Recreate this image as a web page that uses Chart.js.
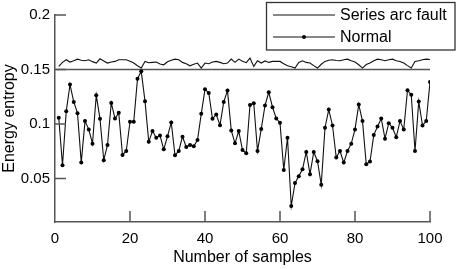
<!DOCTYPE html>
<html>
<head>
<meta charset="utf-8">
<script src="https://cdn.jsdelivr.net/npm/chart.js@4/dist/chart.umd.min.js"></script>
<style>
  html, body { margin: 0; padding: 0; background: #fff; }
</style>
</head>
<body>
<canvas id="chart" width="457" height="269"></canvas>
<script>
// sample numbers 1..100
const samples = Array.from({ length: 100 }, (_, i) => i + 1);

const faultEntropy = [
  0.1528, 0.1565, 0.1589, 0.1568, 0.1580, 0.1595, 0.1585, 0.1580, 0.1589, 0.1572,
  0.1559, 0.1598, 0.1578, 0.1559, 0.1568, 0.1574, 0.1589, 0.1589, 0.1589, 0.1575,
  0.1559, 0.1534, 0.1513, 0.1574, 0.1562, 0.1565, 0.1568, 0.1550, 0.1543, 0.1570,
  0.1585, 0.1595, 0.1589, 0.1565, 0.1553, 0.1534, 0.1548, 0.1559, 0.1513, 0.1559,
  0.1553, 0.1568, 0.1574, 0.1565, 0.1553, 0.1559, 0.1595, 0.1565, 0.1595, 0.1575,
  0.1562, 0.1604, 0.1528, 0.1580, 0.1559, 0.1578, 0.1565, 0.1574, 0.1574, 0.1574,
  0.1553, 0.1534, 0.1525, 0.1513, 0.1565, 0.1580, 0.1565, 0.1559, 0.1535, 0.1513,
  0.1548, 0.1574, 0.1585, 0.1589, 0.1583, 0.1580, 0.1589, 0.1595, 0.1580, 0.1568,
  0.1543, 0.1513, 0.1545, 0.1559, 0.1580, 0.1595, 0.1589, 0.1580, 0.1589, 0.1595,
  0.1580, 0.1574, 0.1559, 0.1535, 0.1513, 0.1574, 0.1580, 0.1589, 0.1595, 0.1592
];

const normalEntropy = [
  0.1057, 0.0621, 0.1117, 0.1361, 0.1202, 0.1099, 0.0645, 0.1026, 0.0950, 0.0819,
  0.1263, 0.1047, 0.0667, 0.0807, 0.1193, 0.1050, 0.1102, 0.0715, 0.0752, 0.1020,
  0.1020, 0.1416, 0.1483, 0.1209, 0.0837, 0.0935, 0.0874, 0.0895, 0.0767, 0.0886,
  0.1014, 0.0712, 0.0752, 0.0883, 0.0788, 0.0807, 0.0795, 0.0852, 0.1093, 0.1318,
  0.1285, 0.1047, 0.1087, 0.0989, 0.1202, 0.1306, 0.0941, 0.0822, 0.0935, 0.0761,
  0.0731, 0.1175, 0.1190, 0.0752, 0.0953, 0.1169, 0.1291, 0.1154, 0.1050, 0.1011,
  0.0578, 0.0874, 0.0247, 0.0457, 0.0521, 0.0584, 0.0743, 0.0539, 0.0743, 0.0658,
  0.0441, 0.0965, 0.1132, 0.0986, 0.0691, 0.0752, 0.0645, 0.0752, 0.0819, 0.0950,
  0.1178, 0.1026, 0.0630, 0.0655, 0.0898, 0.0977, 0.1050, 0.0865, 0.1007, 0.0965,
  0.0879, 0.1026, 0.0950, 0.1309, 0.1269, 0.0752, 0.1205, 0.0986, 0.1026, 0.1385
];

const xTicks = [0, 20, 40, 60, 80, 100];
const yTicks = [0.05, 0.1, 0.15, 0.2];
const threshold = 0.15;

const FONT = "'Liberation Sans', Arial, sans-serif";
const AXIS = "#555";

// threshold line, inward tick marks and the boxed legend
const extras = {
  id: "extras",
  beforeDatasetsDraw(chart) {
    const { ctx, chartArea, scales } = chart;
    const y = scales.y.getPixelForValue(threshold);
    ctx.save();
    ctx.strokeStyle = AXIS;
    ctx.lineWidth = 1.5;
    ctx.beginPath();
    ctx.moveTo(chartArea.left, y);
    ctx.lineTo(chartArea.right, y);
    ctx.stroke();
    ctx.restore();
  },
  afterDraw(chart) {
    const { ctx, chartArea, scales } = chart;
    ctx.save();
    ctx.strokeStyle = AXIS;
    ctx.lineWidth = 1.5;
    ctx.beginPath();
    yTicks.forEach(v => {
      const py = scales.y.getPixelForValue(v);
      ctx.moveTo(chartArea.left, py);
      ctx.lineTo(chartArea.left + 11, py);
    });
    xTicks.slice(1).forEach(v => {
      const px = scales.x.getPixelForValue(v);
      ctx.moveTo(px, chartArea.bottom);
      ctx.lineTo(px, chartArea.bottom - 11);
    });
    ctx.stroke();

    // legend
    ctx.strokeStyle = "#333";
    ctx.lineWidth = 1.3;
    ctx.strokeRect(266.5, 2.5, 188.5, 47.5);
    ctx.font = "16px " + FONT;
    ctx.fillStyle = "#000";
    ctx.textBaseline = "middle";
    const rows = [15, 37];
    chart.data.datasets.forEach((ds, i) => {
      const ry = rows[i];
      ctx.strokeStyle = "#111";
      ctx.lineWidth = 1.2;
      ctx.beginPath();
      ctx.moveTo(273, ry);
      ctx.lineTo(335, ry);
      ctx.stroke();
      if (ds.pointRadius > 0) {
        ctx.beginPath();
        ctx.arc(304, ry, 2, 0, Math.PI * 2);
        ctx.fill();
      }
      ctx.fillText(ds.label, 340, ry + 1);
    });
    ctx.restore();
  }
};

new Chart(document.getElementById("chart"), {
  type: "line",
  data: {
    datasets: [
      {
        label: "Series arc fault",
        data: samples.map((s, i) => ({ x: s, y: faultEntropy[i] })),
        borderColor: "#111",
        borderWidth: 1.1,
        pointRadius: 0,
        tension: 0
      },
      {
        label: "Normal",
        data: samples.map((s, i) => ({ x: s, y: normalEntropy[i] })),
        borderColor: "#111",
        borderWidth: 1.1,
        pointRadius: 2,
        pointBackgroundColor: "#000",
        pointBorderWidth: 0,
        tension: 0
      }
    ]
  },
  options: {
    responsive: false,
    animation: false,
    layout: { padding: { left: 0, right: 27, top: 15, bottom: 0 } },
    plugins: { legend: { display: false }, tooltip: { enabled: false } },
    scales: {
      x: {
        type: "linear",
        min: 0,
        max: 100,
        afterBuildTicks: scale => { scale.ticks = xTicks.map(v => ({ value: v })); },
        afterFit: scale => { scale.height = 47; },
        grid: { display: false, drawTicks: false },
        border: { display: true, color: AXIS, width: 1.5 },
        ticks: { color: "#000", font: { family: FONT, size: 15 }, padding: 8, maxRotation: 0 },
        title: {
          display: true,
          text: "Number of samples",
          color: "#000",
          font: { family: FONT, size: 16 },
          padding: { top: 0, bottom: 2 }
        }
      },
      y: {
        min: 0.01,
        max: 0.2,
        afterBuildTicks: scale => { scale.ticks = yTicks.map(v => ({ value: v })); },
        afterFit: scale => { scale.width = 55; },
        grid: { display: false, drawTicks: false },
        border: { display: true, color: AXIS, width: 1.5 },
        ticks: {
          color: "#000",
          font: { family: FONT, size: 15 },
          padding: 5,
          callback: v => String(+v.toFixed(2))
        },
        title: {
          display: true,
          text: "Energy entropy",
          color: "#000",
          font: { family: FONT, size: 16 },
          padding: { top: 0, bottom: 0 }
        }
      }
    }
  },
  plugins: [extras]
});
</script>
</body>
</html>
